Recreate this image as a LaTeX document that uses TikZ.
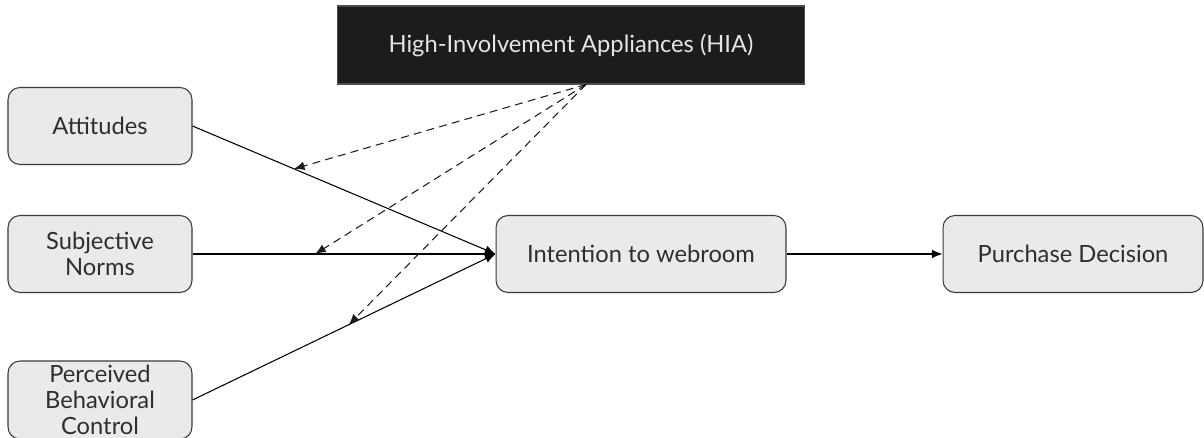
\documentclass[tikz,border=0pt]{standalone}
\usepackage{fontspec}
\setmainfont{Lato}
\usetikzlibrary{positioning,arrows.meta}
\definecolor{boxfill}{HTML}{E8EAEB}
\definecolor{boxline}{HTML}{3A3A3A}
\definecolor{hiafill}{HTML}{1C1C1C}
\definecolor{txt}{HTML}{2E2E2E}
\begin{document}
\begin{tikzpicture}[x=0.02cm,y=-0.02cm,>={Latex[length=6pt,width=5pt]},line width=0.6pt,
  factor/.style={draw=boxline,fill=boxfill,rounded corners=0.24cm,text=txt,
    align=center,font=\fontsize{13.5}{15}\selectfont,inner sep=2pt},
  hia/.style={fill=hiafill,draw=gray!60!black,text=white!90!black,
    font=\fontsize{13.5}{15}\selectfont,minimum width=9.36cm,minimum height=1.56cm},
  moder/.style={->,dash pattern=on 4.5pt off 3pt,draw=hiafill}]
  \useasboundingbox (0,0) rectangle (1204,438);
  \node[hia](hia) at (571,45) {High-Involvement Appliances (HIA)};
  \node[factor,minimum width=3.68cm,minimum height=1.54cm](att) at (100,126) {Attitudes};
  \node[factor,minimum width=3.68cm,minimum height=1.54cm](norms) at (100,254) {Subjective\\Norms};
  \node[factor,minimum width=3.68cm,minimum height=1.56cm](pbc) at (100,400) {Perceived\\Behavioral\\Control};
  \node[factor,minimum width=5.8cm,minimum height=1.54cm](intent) at (641,254) {Intention to webroom};
  \node[factor,minimum width=5.2cm,minimum height=1.54cm](decision) at (1073,254) {Purchase Decision};
  \coordinate (src) at ([xshift=0.3cm]hia.south);
  \draw[->] (att.east)--(intent.west) coordinate[pos=0.335](m1);
  \draw[->] (norms.east)--(intent.west) coordinate[pos=0.405](m2);
  \draw[->] (pbc.east)--(intent.west) coordinate[pos=0.516](m3);
  \draw[->] (intent)--(decision);
  \draw[moder] (src)--(m1);
  \draw[moder] (src)--(m2);
  \draw[moder] (src)--(m3);
\end{tikzpicture}
\end{document}
